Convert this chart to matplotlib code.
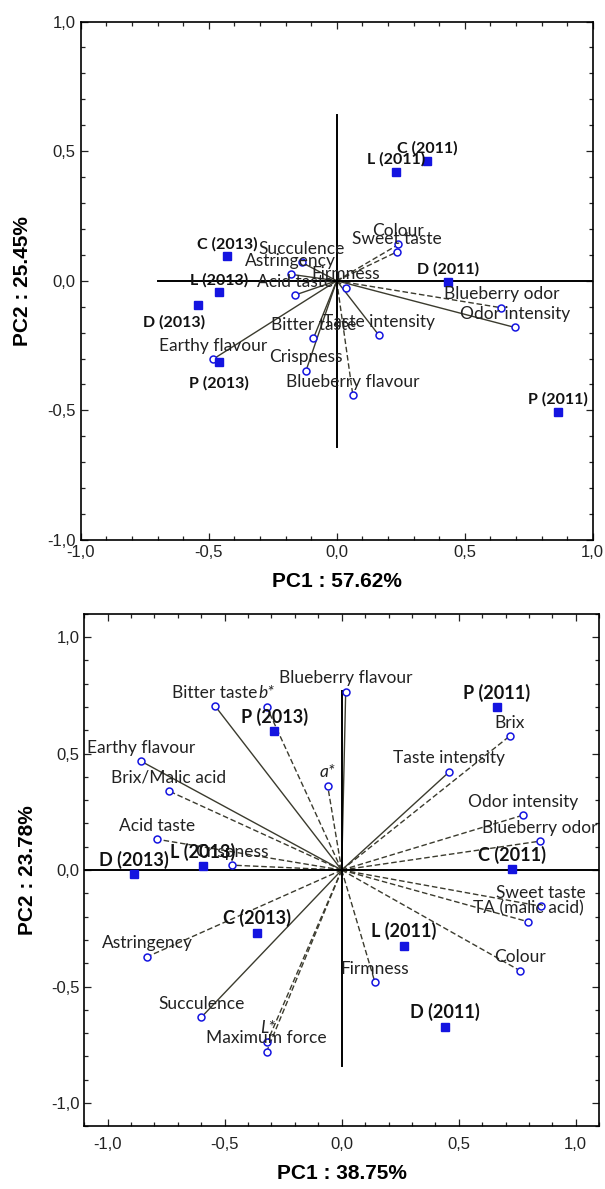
import matplotlib
matplotlib.use('Agg')
import matplotlib.pyplot as plt
from matplotlib.ticker import MultipleLocator, FuncFormatter

#===================================================
#                   data
#===================================================
# top panel (PCA loadings + sample scores)
top_vars = ['Colour', 'Sweet taste', 'Succulence', 'Astringency', 'Acid taste',
            'Firmness', 'Earthy flavour', 'Bitter taste', 'Crispness',
            'Blueberry flavour', 'Taste intensity', 'Blueberry odor', 'Odor intensity']
top_vx = [0.241, 0.234, -0.137, -0.179, -0.163, 0.036, -0.484, -0.091, -0.120,
          0.063, 0.164, 0.643, 0.696]
top_vy = [0.140, 0.111, 0.071, 0.025, -0.055, -0.027, -0.303, -0.222, -0.347,
          -0.441, -0.209, -0.104, -0.180]

top_samples = ['C (2011)', 'L (2011)', 'D (2011)', 'P (2011)',
               'C (2013)', 'L (2013)', 'D (2013)', 'P (2013)']
top_sx = [0.354, 0.232, 0.435, 0.866, -0.429, -0.460, -0.543, -0.460]
top_sy = [0.463, 0.420, -0.003, -0.505, 0.094, -0.045, -0.095, -0.312]

# bottom panel
bot_vars = ['Bitter taste', 'b*', 'Blueberry flavour', 'Earthy flavour',
            'Brix/Malic acid', 'a*', 'Acid taste', 'Crispness', 'Taste intensity',
            'Brix', 'Odor intensity', 'Blueberry odor', 'Sweet taste',
            'TA (malic acid)', 'Colour', 'Firmness', 'Astringency', 'Succulence',
            'L*', 'Maximum force']
bot_vx = [-0.541, -0.321, 0.017, -0.859, -0.738, -0.060, -0.788, -0.469, 0.460,
          0.719, 0.776, 0.847, 0.850, 0.797, 0.762, 0.142, -0.831, -0.600,
          -0.318, -0.321]
bot_vy = [0.704, 0.701, 0.765, 0.468, 0.339, 0.362, 0.132, 0.021, 0.422,
          0.576, 0.236, 0.124, -0.155, -0.222, -0.432, -0.482, -0.372, -0.632,
          -0.737, -0.780]

bot_samples = ['P (2011)', 'C (2011)', 'L (2011)', 'D (2011)',
               'P (2013)', 'L (2013)', 'D (2013)', 'C (2013)']
bot_sx = [0.662, 0.728, 0.266, 0.441, -0.289, -0.594, -0.888, -0.363]
bot_sy = [0.698, 0.003, -0.325, -0.672, 0.597, 0.017, -0.017, -0.269]

#===================================================
#                   styles
#===================================================
top_dashed = ['Colour', 'Sweet taste', 'Firmness', 'Blueberry flavour', 'Blueberry odor']
bot_solid = ['Bitter taste', 'Blueberry flavour', 'Earthy flavour',
             'Taste intensity', 'Succulence']
italic_vars = ['a*', 'b*', 'L*']
# label offsets in points (dx, dy), default is centered above
top_sample_off = {'D (2013)': (-17, -15.5), 'P (2013)': (0, -19)}

LINE_C = '#3b3b2e'
BLUE = '#1414e0'
VAR_FONT = 'Lato'
TICK_FONT = 'Liberation Sans'


def comma_fmt(v, pos):
    return ('%.1f' % v).replace('.', ',')


def style_axes(ax, xlim, ylim):
    ax.set_xlim(*xlim)
    ax.set_ylim(*ylim)
    ax.xaxis.set_major_locator(MultipleLocator(0.5))
    ax.yaxis.set_major_locator(MultipleLocator(0.5))
    ax.xaxis.set_minor_locator(MultipleLocator(0.1))
    ax.yaxis.set_minor_locator(MultipleLocator(0.1))
    ax.xaxis.set_major_formatter(FuncFormatter(comma_fmt))
    ax.yaxis.set_major_formatter(FuncFormatter(comma_fmt))
    ax.tick_params(which='both', direction='in', top=True, right=True,
                   labelsize=12, width=0.9, colors='#222222')
    ax.tick_params(which='major', length=5)
    ax.tick_params(which='minor', length=3)
    for lab in ax.get_xticklabels() + ax.get_yticklabels():
        lab.set_family(TICK_FONT)
    for sp in ax.spines.values():
        sp.set_linewidth(1.2)


def draw_biplot(ax, vnames, vx, vy, is_dashed, snames, sx, sy,
                var_fs, samp_fs, samp_off):
    for n, x, y in zip(vnames, vx, vy):
        ls = (0, (4, 2)) if is_dashed(n) else '-'
        ax.plot([0, x], [0, y], color=LINE_C, lw=1.0, ls=ls, zorder=2)
    ax.plot(vx, vy, 'o', ms=5, mfc='white', mec=BLUE, mew=1.1, ls='none', zorder=4)
    for n, x, y in zip(vnames, vx, vy):
        ax.annotate(n, (x, y), xytext=(0, 6), textcoords='offset points',
                    ha='center', va='baseline', fontsize=var_fs,
                    family=VAR_FONT,
                    style='italic' if n in italic_vars else 'normal',
                    color='#222222', zorder=5)
    ax.plot(sx, sy, 's', ms=6, color=BLUE, ls='none', zorder=4)
    for n, x, y in zip(snames, sx, sy):
        dx, dy = samp_off.get(n, (0, 6))
        ax.annotate(n, (x, y), xytext=(dx, dy), textcoords='offset points',
                    ha='center', va='baseline', fontsize=samp_fs,
                    family=VAR_FONT, weight='bold', color='#111111', zorder=5)


#===================================================
#                   plots
#===================================================
fig = plt.figure(figsize=(6.05, 11.89), dpi=100)

ax1 = fig.add_axes([0.1334, 0.5458, 0.8463, 0.4361])
style_axes(ax1, (-1.0, 1.0), (-1.0, 1.0))
ax1.plot([-0.7, 1.0], [0, 0], color='black', lw=1.4, zorder=3)
ax1.plot([0, 0], [-0.64, 0.64], color='black', lw=1.4, zorder=3)
draw_biplot(ax1, top_vars, top_vx, top_vy, lambda n: n in top_dashed,
            top_samples, top_sx, top_sy, 12.5, 11.5, top_sample_off)
ax1.set_xlabel('PC1 : 57.62%', fontsize=15, weight='bold', family=TICK_FONT, labelpad=9)
ax1.set_ylabel('PC2 : 25.45%', fontsize=15, weight='bold', family=TICK_FONT, labelpad=11)

ax2 = fig.add_axes([0.1393, 0.0527, 0.8510, 0.4311])
style_axes(ax2, (-1.1, 1.1), (-1.1, 1.1))
ax2.plot([-1.1, 1.1], [0, 0], color='black', lw=1.4, zorder=3)
ax2.plot([0, 0], [-0.84, 0.77], color='black', lw=1.4, zorder=3)
draw_biplot(ax2, bot_vars, bot_vx, bot_vy, lambda n: n not in bot_solid,
            bot_samples, bot_sx, bot_sy, 12.5, 13, {})
ax2.xaxis.set_tick_params(pad=8)
ax2.set_xlabel('PC1 : 38.75%', fontsize=15, weight='bold', family=TICK_FONT, labelpad=8)
ax2.set_ylabel('PC2 : 23.78%', fontsize=15, weight='bold', family=TICK_FONT, labelpad=10)

fig.savefig('out.png', dpi=100)
